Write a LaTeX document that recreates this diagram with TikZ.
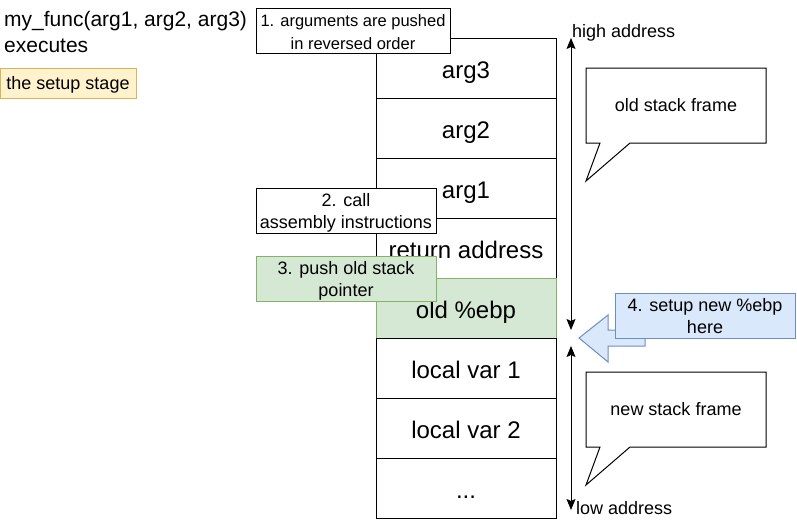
\documentclass[tikz,border=0pt]{standalone}
\usepackage{fontspec}
\setmainfont{Liberation Sans}
\usetikzlibrary{arrows.meta}
\definecolor{ylwfill}{HTML}{FFF2CC}
\definecolor{ylwline}{HTML}{D6B656}
\definecolor{grnfill}{HTML}{D5E8D4}
\definecolor{grnline}{HTML}{82B366}
\definecolor{bluefill}{HTML}{DAE8FC}
\definecolor{blueline}{HTML}{6C8EBF}
\tikzset{
  cell/.style={draw=black, fill=white, line width=1pt, minimum width=180pt, minimum height=60pt, inner sep=0pt, text height=25pt, text depth=5pt, font=\fontsize{24}{29}\selectfont},
  note/.style={draw=black, fill=white, line width=1pt, minimum height=45pt, inner sep=0pt, align=center, text height=36pt, text depth=0pt, font=\fontsize{18}{21.6}\selectfont},
  plain/.style={inner sep=0pt, font=\fontsize{18}{21.6}\selectfont},
  oneline/.style={text height=13pt, text depth=0.5pt},
  addr/.style={line width=1pt, {Stealth[length=11pt,width=9pt,inset=2pt]}-{Stealth[length=11pt,width=9pt,inset=2pt]}},
  callout/.style={draw=black, fill=white, line width=1pt, line join=miter}
}
\begin{document}
\begin{tikzpicture}[x=1pt,y=-1pt]
\useasboundingbox (0,0) rectangle (797,530);
% title
\node[anchor=base west, inner sep=0pt, align=left, font=\fontsize{21}{26}\selectfont] (title) at (4,52) {my\_func(arg1, arg2, arg3)\\executes};
\node[draw=ylwline, fill=ylwfill, line width=1pt, minimum width=136pt, minimum height=30pt, inner sep=0pt, oneline, font=\fontsize{18}{21.6}\selectfont] (stage) at (68,83) {the setup stage};
% stack cells
\node[cell] (c1) at (466,68) {arg3};
\node[cell] (c2) at (466,128) {arg2};
\node[cell] (c3) at (466,188) {arg1};
\node[cell] (c4) at (466,248) {return address};
\node[cell, draw=grnline, fill=grnfill] (c5) at (466,308) {old \%ebp};
\node[cell] (c6) at (466,368) {local var 1};
\node[cell] (c7) at (466,428) {local var 2};
\node[cell] (c8) at (466,488) {...};
% step notes
\node[note, minimum width=194pt, text height=37pt, font=\fontsize{16.5}{22.5}\selectfont] (n1) at (353,30.5) {1. arguments are pushed\\in reversed order};
\node[note, minimum width=180pt] (n2) at (346,210.5) {2. call\\assembly instructions};
\node[note, minimum width=180pt, draw=grnline, fill=grnfill] (n3) at (346,278.5) {3. push old stack\\pointer};
% blue arrow
\draw[draw=blueline, fill=bluefill, line width=1pt, line join=miter] (579,338) -- (608,315) -- (608,330) -- (645,330) -- (645,346) -- (608,346) -- (608,362) -- cycle;
\node[note, minimum width=180pt, draw=blueline, fill=bluefill] (n4) at (705,315.5) {4. setup new \%ebp\\here};
% address arrows
\coordinate (hiT) at (571,38);
\coordinate (hiB) at (571,330);
\coordinate (loT) at (571,346);
\coordinate (loB) at (571,510);
\draw[addr] (hiT) -- (hiB);
\draw[addr] (loT) -- (loB);
\node[plain, anchor=base west] (hi) at (572,37) {high address};
\node[plain, anchor=base west] (lo) at (576,514) {low address};
% callouts
\draw[callout] (586,68) -- (766,68) -- (766,143) -- (630,143) -- (586,181) -- (600,143) -- (586,143) -- cycle;
\node[plain, oneline] (oldf) at (676,105.5) {old stack frame};
\draw[callout] (586,372) -- (766,372) -- (766,447) -- (630,447) -- (586,485) -- (600,447) -- (586,447) -- cycle;
\node[plain, oneline] (newf) at (676,409.5) {new stack frame};
\end{tikzpicture}
\end{document}
